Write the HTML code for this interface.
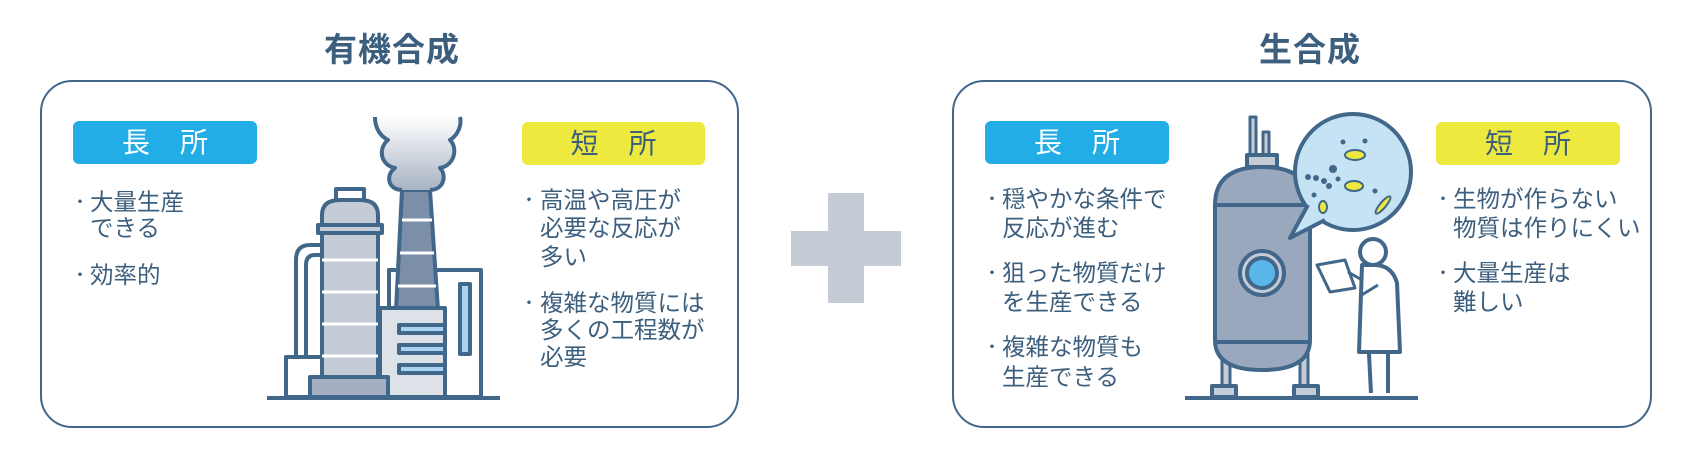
<!DOCTYPE html>
<html><head><meta charset="utf-8"><style>
body{margin:0;width:1697px;height:462px;background:#fff;position:relative;overflow:hidden;font-family:"Liberation Sans","Noto Sans CJK JP",sans-serif;color:#3d5f7e}
.t{position:absolute;font-size:33px;font-weight:bold;letter-spacing:1px;width:300px;text-align:center;line-height:40px}
.box{position:absolute;border:2.5px solid #41678a;border-radius:32px;box-sizing:border-box}
.bd{position:absolute;height:43px;border-radius:6px;font-size:28px;line-height:43px;text-align:center;letter-spacing:30px;text-indent:30px}
.blue{background:#22ade6;color:#fff}.yel{background:#ede93f;color:#3d5f7e}
.l{position:absolute;font-size:23.5px;line-height:28px;white-space:nowrap}
.b{position:absolute;font-size:14px;line-height:28px;font-weight:bold}
</style></head><body>
<div class="t" style="left:242px;top:30px">有機合成</div>
<div class="t" style="left:1160px;top:30px">生合成</div>
<div class="box" style="left:40px;top:80px;width:699px;height:348px"></div>
<div class="box" style="left:952px;top:80px;width:700px;height:348px"></div>
<div class="bd blue" style="left:73px;top:121px;width:184px">長所</div>
<div class="bd yel" style="left:522px;top:122px;width:183px">短所</div>
<div class="bd blue" style="left:985px;top:121px;width:184px">長所</div>
<div class="bd yel" style="left:1436px;top:122px;width:184px">短所</div>

<div class="b" style="left:73px;top:188px">・</div><div class="l" style="left:90px;top:188px">大量生産</div>
<div class="l" style="left:90px;top:214px">できる</div>
<div class="b" style="left:73px;top:261px">・</div><div class="l" style="left:90px;top:261px">効率的</div>

<div class="b" style="left:522px;top:186px">・</div><div class="l" style="left:540px;top:186px">高温や高圧が</div>
<div class="l" style="left:540px;top:214px">必要な反応が</div>
<div class="l" style="left:540px;top:243px">多い</div>
<div class="b" style="left:522px;top:289px">・</div><div class="l" style="left:540px;top:289px">複雑な物質には</div>
<div class="l" style="left:540px;top:316px">多くの工程数が</div>
<div class="l" style="left:540px;top:343px">必要</div>

<div class="b" style="left:985px;top:185px">・</div><div class="l" style="left:1002px;top:185px">穏やかな条件で</div>
<div class="l" style="left:1002px;top:214px">反応が進む</div>
<div class="b" style="left:985px;top:259px">・</div><div class="l" style="left:1002px;top:259px">狙った物質だけ</div>
<div class="l" style="left:1002px;top:288px">を生産できる</div>
<div class="b" style="left:985px;top:333px">・</div><div class="l" style="left:1002px;top:333px">複雑な物質も</div>
<div class="l" style="left:1002px;top:363px">生産できる</div>

<div class="b" style="left:1436px;top:185px">・</div><div class="l" style="left:1453px;top:185px">生物が作らない</div>
<div class="l" style="left:1453px;top:214px">物質は作りにくい</div>
<div class="b" style="left:1436px;top:259px">・</div><div class="l" style="left:1453px;top:259px">大量生産は</div>
<div class="l" style="left:1453px;top:288px">難しい</div>

<svg width="1697" height="462" style="position:absolute;left:0;top:0">
<defs><linearGradient id="sm" x1="0" y1="0" x2="0" y2="1"><stop offset="0" stop-color="#fff"/><stop offset="1" stop-color="#a9b3c3"/></linearGradient></defs>
<rect x="791" y="231" width="110" height="35" fill="#c5ccd6"/><rect x="828" y="193" width="36" height="110" fill="#c5ccd6"/>
<g stroke="#41678a" stroke-width="4" stroke-linejoin="round">
<rect x="389" y="270" width="92" height="127" fill="#fff"/>
<rect x="460" y="284" width="10" height="70" fill="#a9d3f0"/>
<path d="M402 190 L430 190 L438 310 L396 310 Z" fill="#7b8fa8"/>
<line x1="402" y1="220" x2="432" y2="220" stroke="#fff" stroke-width="3"/><line x1="400" y1="253" x2="434" y2="253" stroke="#fff" stroke-width="3"/><line x1="398" y1="286" x2="436" y2="286" stroke="#fff" stroke-width="3"/>
<path d="M375 117 C375 125 378 135 388 140 C378 148 380 165 395 168 C385 175 388 190 402 190 L430 190 C447 190 447 175 440 168 C455 165 458 148 450 140 C460 135 462 125 460 117 Z" fill="url(#sm)" stroke="none"/>
<path d="M375 117 C375 125 378 135 388 140 C378 148 380 165 395 168 C385 175 388 190 402 190 M460 117 C462 125 458 135 450 140 C458 148 455 165 440 168 C447 175 444 190 430 190" fill="none"/>
<rect x="380" y="308" width="65" height="89" fill="#dde1e8"/>
<rect x="399" y="325" width="46" height="8" fill="#a9d3f0"/><rect x="399" y="345" width="46" height="8" fill="#a9d3f0"/><rect x="399" y="365" width="46" height="8" fill="#a9d3f0"/>
<path d="M320 245 L310 245 Q296 245 296 260 L296 360" fill="none"/><path d="M320 255 L315 255 Q306 255 306 265 L306 360" fill="none"/>
<rect x="286" y="357" width="36" height="40" fill="#fff"/>
<rect x="336" y="189" width="28" height="12" fill="#fff"/>
<path d="M322 377 L322 215 Q322 200 340 200 L360 200 Q378 200 378 215 L378 377 Z" fill="#c5ccd6"/>
<rect x="318" y="225" width="64" height="8" fill="#c5ccd6"/>
<line x1="322" y1="260" x2="378" y2="260" stroke="#fff" stroke-width="3"/><line x1="322" y1="292" x2="378" y2="292" stroke="#fff" stroke-width="3"/><line x1="322" y1="324" x2="378" y2="324" stroke="#fff" stroke-width="3"/><line x1="322" y1="356" x2="378" y2="356" stroke="#fff" stroke-width="3"/>
<rect x="310" y="377" width="78" height="20" fill="#a3afc1"/>
<line x1="267" y1="398" x2="500" y2="398"/>
<!-- bioreactor -->
<rect x="1250" y="117" width="6" height="42" fill="#c5ccd6" stroke-width="3"/><rect x="1263" y="132" width="6" height="27" fill="#c5ccd6" stroke-width="3"/>
<rect x="1247" y="155" width="30" height="12" fill="#c5ccd6"/>
<rect x="1222" y="340" width="8" height="50" fill="#c5ccd6" stroke-width="3"/><rect x="1300" y="340" width="8" height="50" fill="#c5ccd6" stroke-width="3"/>
<rect x="1212" y="386" width="24" height="11" fill="#c5ccd6"/><rect x="1294" y="386" width="24" height="11" fill="#c5ccd6"/>
<path d="M1215 205 Q1215 167 1262 167 Q1310 167 1310 205 L1310 340 Q1310 370 1262 370 Q1215 370 1215 340 Z" fill="#9aa8bd"/>
<line x1="1215" y1="205" x2="1310" y2="205"/><line x1="1215" y1="342" x2="1310" y2="342"/>
<circle cx="1262" cy="273" r="22" fill="#c5ccd6"/><circle cx="1262" cy="273" r="15" fill="#5ab5e8"/>
<circle cx="1353" cy="172" r="58" fill="#c5e3f5"/>
<path d="M1308 205 L1290 238 L1325 220" fill="#c5e3f5"/>
<path d="M1312 202 L1295 233 L1327 214 Z" fill="#c5e3f5" stroke="none"/>
<line x1="1185" y1="398" x2="1418" y2="398"/>
<path d="M1362 265 L1359 352 L1400 352 L1397 283 Q1392 265 1374 265 Z" fill="#fff"/>
<circle cx="1373" cy="252" r="13" fill="#fff"/>
<line x1="1369" y1="354" x2="1371" y2="393"/><line x1="1388" y1="354" x2="1388" y2="393"/>
<path d="M1317 265 L1345 260 L1355 288 L1330 292 Z" fill="#fff" stroke-width="3"/>
<path d="M1362 280 L1348 272 M1378 285 L1360 296" fill="none" stroke-width="3"/>
</g>
<g fill="#ede93f" stroke="#41678a" stroke-width="2">
<ellipse cx="1355" cy="155" rx="10" ry="5"/><ellipse cx="1354" cy="186" rx="9" ry="5"/><ellipse cx="1323" cy="207" rx="4" ry="6"/><ellipse cx="1383" cy="205" rx="3" ry="11" transform="rotate(40 1383 205)"/>
</g>
<g fill="#41678a"><circle cx="1343" cy="142" r="2.5"/><circle cx="1365" cy="141" r="2.5"/><circle cx="1314" cy="195" r="2.5"/><circle cx="1338" cy="179" r="2.5"/><circle cx="1375" cy="191" r="2.5"/><circle cx="1308" cy="177" r="3"/><circle cx="1316" cy="178" r="3"/><circle cx="1324" cy="181" r="3"/><circle cx="1329" cy="186" r="3"/><circle cx="1333" cy="169" r="4"/></g>
</svg>
</body></html>
